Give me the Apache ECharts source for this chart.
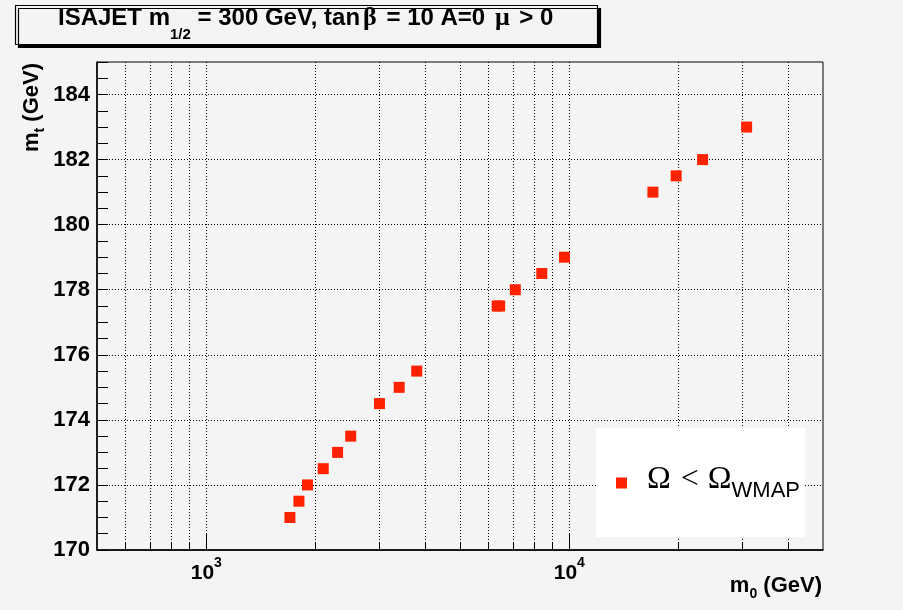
<!DOCTYPE html>
<html>
<head>
<meta charset="utf-8">
<script src="https://cdn.jsdelivr.net/npm/echarts@6/dist/echarts.min.js"></script>
<style>
  html, body { margin: 0; padding: 0; background: #f4f4f4; }
  #chart { width: 903px; height: 610px; }
</style>
</head>
<body>
<div id="chart"></div>
<script>
// m0 (GeV) and top-quark mass (GeV) of the points with relic density below WMAP
const m0Values = [1700, 1800, 1900, 2100, 2300, 2500, 3000, 3400, 3800,
                  6330, 6430, 7100, 8400, 9700, 17000, 19700, 23300, 30800];
const mtValues = [171, 171.5, 172, 172.5, 173, 173.5, 174.5, 175, 175.5,
                  177.5, 177.5, 178, 178.5, 179, 181, 181.5, 182, 183];

// axis ticks
const xMajorTicks = [1000, 10000];
const xMinorTicks = [600, 700, 800, 900, 1000, 2000, 3000, 4000, 5000, 6000, 7000, 8000, 9000,
                     10000, 20000, 30000, 40000];
const yLabelTicks = [170, 172, 174, 176, 178, 180, 182, 184];

const seriesName = 'Ω < ΩWMAP';
const points = m0Values.map((x, i) => [x, mtValues[i]]);

const SANS = '"Liberation Sans", Arial, Helvetica, sans-serif';
const SERIF = '"Liberation Serif", "Times New Roman", serif';
const gridDots = { color: '#000', width: 1, type: [1, 2] };

const chart = echarts.init(document.getElementById('chart'), null, { renderer: 'canvas' });

chart.setOption({
  backgroundColor: '#f4f4f4',
  animation: false,
  title: {
    text: '{a|ISAJET m}{s|1/2}{a| = 300 GeV, tan}{g|β}{a| = 10 A=0 }{g|μ}{a| > 0}',
    left: 15,
    top: 4,
    padding: [0, 44, 3, 43],
    backgroundColor: '#f4f4f4',
    borderColor: '#000',
    borderWidth: 1.2,
    shadowColor: '#000',
    shadowBlur: 0,
    shadowOffsetX: 3,
    shadowOffsetY: 3,
    textStyle: {
      rich: {
        a: { fontFamily: SANS, fontWeight: 'bold', fontSize: 24, color: '#000', lineHeight: 28, verticalAlign: 'middle' },
        s: { fontFamily: SANS, fontWeight: 'bold', fontSize: 15, color: '#000', lineHeight: 14, verticalAlign: 'bottom', padding: [0, 0, -10, 0] },
        g: { fontFamily: SERIF, fontSize: 26, color: '#000', lineHeight: 28, verticalAlign: 'middle', padding: [0, 3, 0, 3] }
      }
    }
  },
  legend: {
    data: [seriesName],
    left: 596,
    top: 428,
    orient: 'vertical',
    backgroundColor: '#ffffff',
    padding: [36, 5, 35, 20],
    itemWidth: 11,
    itemHeight: 11,
    icon: 'rect',
    formatter: () => '{o|Ω}{lt|<}{o|Ω}{s|WMAP}',
    textStyle: {
      padding: [0, 0, 0, 15],
      rich: {
        o: { fontFamily: SERIF, fontSize: 32, color: '#000', lineHeight: 38, verticalAlign: 'top' },
        lt: { fontFamily: SERIF, fontSize: 32, color: '#000', lineHeight: 38, verticalAlign: 'top', padding: [0, 9, 0, 10] },
        s: { fontFamily: SANS, fontSize: 22, color: '#000', lineHeight: 22, verticalAlign: 'bottom' }
      }
    }
  },
  grid: {
    left: 97,
    right: 80,
    top: 62,
    bottom: 60,
    show: true,
    borderColor: '#000',
    borderWidth: 1,
    backgroundColor: 'transparent'
  },
  xAxis: [
    {
      type: 'log',
      logBase: 10,
      min: 500,
      max: 50000,
      position: 'bottom',
      name: '{m|m}{s|0}{m| (GeV)}',
      nameLocation: 'end',
      nameGap: 0,
      nameTextStyle: {
        align: 'right',
        verticalAlign: 'top',
        padding: [25, 1, 0, 0],
        rich: {
          m: { fontFamily: SANS, fontWeight: 'bold', fontSize: 22, color: '#000', lineHeight: 26, verticalAlign: 'top' },
          s: { fontFamily: SANS, fontWeight: 'bold', fontSize: 14, color: '#000', lineHeight: 14, verticalAlign: 'bottom' }
        }
      },
      axisLine: { show: true, onZero: false, lineStyle: { color: '#000', width: 1.5 } },
      axisTick: { show: true, inside: true, length: 16, customValues: xMajorTicks, lineStyle: { color: '#000', width: 1 } },
      axisLabel: {
        show: true,
        margin: 6,
        customValues: xMajorTicks,
        formatter: v => '{b|10}{p|' + Math.round(Math.log10(v)) + '}',
        rich: {
          b: { fontFamily: SANS, fontWeight: 'bold', fontSize: 21, color: '#000', lineHeight: 28, verticalAlign: 'bottom' },
          p: { fontFamily: SANS, fontWeight: 'bold', fontSize: 14, color: '#000', lineHeight: 14, verticalAlign: 'top' }
        }
      },
      splitLine: { show: false }
    },
    {
      type: 'log',
      logBase: 10,
      min: 500,
      max: 50000,
      position: 'bottom',
      axisLine: { show: false },
      axisTick: { show: true, inside: true, length: 7, customValues: xMinorTicks, lineStyle: { color: '#000', width: 1 } },
      axisLabel: { show: false },
      splitLine: { show: true, lineStyle: gridDots }
    }
  ],
  yAxis: [
    {
      type: 'value',
      min: 170,
      max: 185,
      interval: 2,
      position: 'left',
      name: '{m|m}{s|t}{m| (GeV)}',
      nameLocation: 'end',
      nameRotate: 90,
      nameGap: 0,
      nameTextStyle: {
        align: 'right',
        verticalAlign: 'bottom',
        padding: [0, 1, 50, 0],
        rich: {
          m: { fontFamily: SANS, fontWeight: 'bold', fontSize: 22, color: '#000', lineHeight: 26, verticalAlign: 'top' },
          s: { fontFamily: SANS, fontWeight: 'bold', fontSize: 14, color: '#000', lineHeight: 14, verticalAlign: 'bottom' }
        }
      },
      axisLine: { show: true, onZero: false, lineStyle: { color: '#000', width: 1.5 } },
      axisTick: { show: false, customValues: yLabelTicks },
      axisLabel: {
        show: true,
        margin: 7,
        customValues: yLabelTicks,
        fontFamily: SANS,
        fontWeight: 'bold',
        fontSize: 22,
        color: '#000'
      },
      splitLine: { show: true, lineStyle: gridDots }
    },
    {
      type: 'value',
      min: 170,
      max: 185,
      interval: 0.5,
      position: 'left',
      axisLine: { show: false },
      axisTick: { show: true, inside: true, length: 11, lineStyle: { color: '#000', width: 1 } },
      axisLabel: { show: false },
      splitLine: { show: false }
    }
  ],
  series: [
    {
      name: seriesName,
      type: 'scatter',
      xAxisIndex: 0,
      yAxisIndex: 0,
      symbol: 'rect',
      symbolSize: 11,
      itemStyle: { color: '#ff2200', opacity: 1 },
      data: points
    }
  ]
});
</script>
</body>
</html>
